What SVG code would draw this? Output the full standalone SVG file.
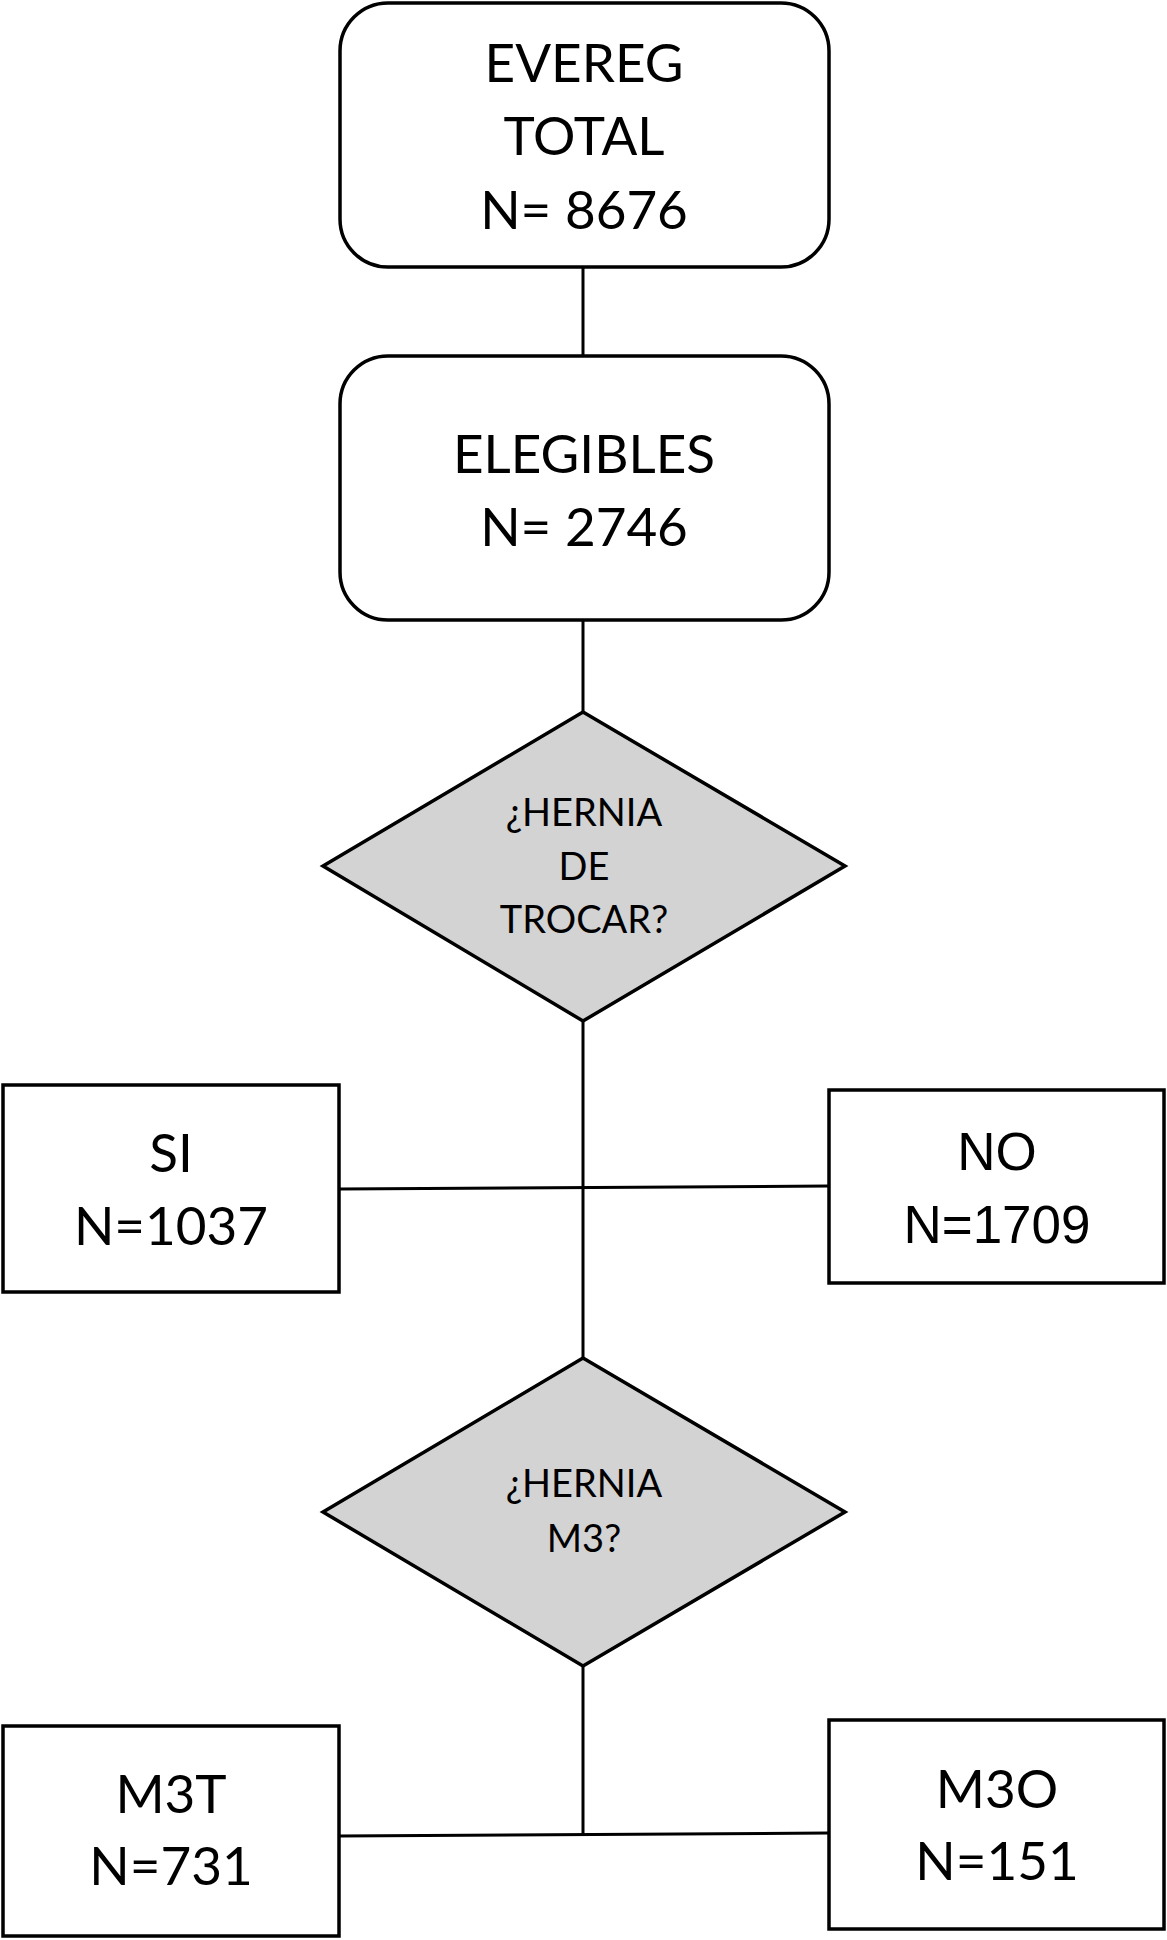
<svg xmlns="http://www.w3.org/2000/svg" width="1167" height="1940" viewBox="0 0 1167 1940">
<style>
.box{fill:#fff;stroke:#000;stroke-width:3.5}
.dia{fill:#d3d3d3;stroke:#000;stroke-width:3.5}
.con{fill:none;stroke:#000;stroke-width:3}
.t{font-family:Lato,"Open Sans",sans-serif;font-size:53px;fill:#000;text-anchor:middle}
.td{font-family:Lato,"Open Sans",sans-serif;font-size:38px;fill:#000;text-anchor:middle}
.ta{font-family:"Liberation Sans",Arial,sans-serif;font-size:53px;fill:#000;text-anchor:middle}
</style>
<rect width="1167" height="1940" fill="#fff"/>
<g id="connectors">
<line class="con" x1="583" y1="267" x2="583" y2="356"/>
<line class="con" x1="583" y1="620" x2="583" y2="712"/>
<line class="con" x1="583" y1="1021" x2="583" y2="1358"/>
<line class="con" x1="339" y1="1189" x2="829" y2="1186"/>
<line class="con" x1="583" y1="1666" x2="583" y2="1835"/>
<line class="con" x1="339" y1="1836" x2="829" y2="1833"/>
</g>
<g id="n-total">
<rect class="box" x="340" y="3" width="489" height="264" rx="48"/>
<text class="t" x="584" y="82">EVEREG</text>
<text class="t" x="584" y="155">TOTAL</text>
<text class="t" x="584" y="229">N= 8676</text>
</g>
<g id="n-elegibles">
<rect class="box" x="340" y="356" width="489" height="264" rx="48"/>
<text class="t" x="584" y="473">ELEGIBLES</text>
<text class="t" x="584" y="546">N= 2746</text>
</g>
<g id="n-trocar">
<polygon class="dia" points="583,712 845,866 583,1021 323,866"/>
<text class="td" x="584" y="826">¿HERNIA</text>
<text class="td" x="584" y="880">DE</text>
<text class="td" x="584" y="933">TROCAR?</text>
</g>
<g id="n-si">
<rect class="box" x="3" y="1085" width="336" height="207"/>
<text class="t" x="171" y="1172">SI</text>
<text class="t" x="171" y="1245">N=1037</text>
</g>
<g id="n-no">
<rect class="box" x="829" y="1090" width="335" height="193"/>
<text class="ta" x="997" y="1170">NO</text>
<text class="ta" x="997" y="1243">N=1709</text>
</g>
<g id="n-m3">
<polygon class="dia" points="583,1358 845,1512 583,1666 323,1512"/>
<text class="td" x="584" y="1497">¿HERNIA</text>
<text class="td" x="584" y="1552">M3?</text>
</g>
<g id="n-m3t">
<rect class="box" x="3" y="1726" width="336" height="210"/>
<text class="t" x="171" y="1813">M3T</text>
<text class="t" x="171" y="1885">N=731</text>
</g>
<g id="n-m3o">
<rect class="box" x="829" y="1720" width="335" height="209"/>
<text class="t" x="997" y="1808">M3O</text>
<text class="t" x="997" y="1880">N=151</text>
</g>
</svg>
